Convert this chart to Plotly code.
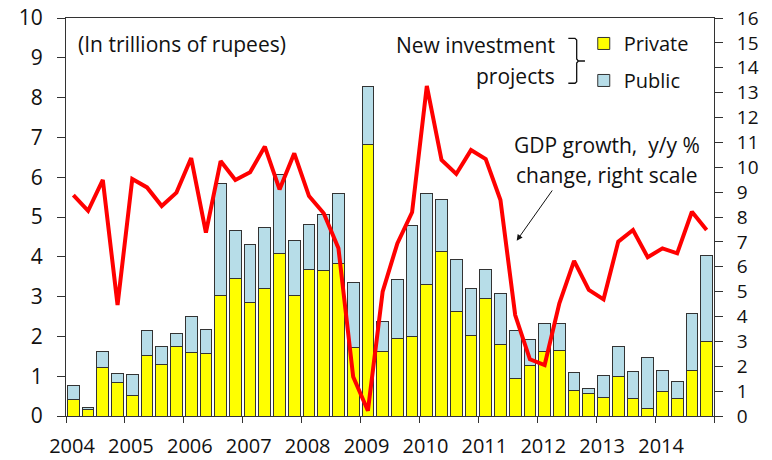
import plotly.graph_objects as go

years = ["2004", "2005", "2006", "2007", "2008", "2009", "2010", "2011", "2012", "2013", "2014"]

private = [0.42, 0.16, 1.22, 0.85, 0.52, 1.51, 1.29, 1.75,
           1.59, 1.57, 3.02, 3.46, 2.86, 3.21, 4.08, 3.04,
           3.68, 3.65, 3.84, 1.73, 6.83, 1.62, 1.95, 2.01,
           3.30, 4.14, 2.63, 2.03, 2.95, 1.80, 0.95, 1.26,
           1.62, 1.64, 0.65, 0.57, 0.47, 1.00, 0.44, 0.18,
           0.61, 0.44, 1.15, 1.88]
total = [0.77, 0.22, 1.62, 1.07, 1.05, 2.15, 1.75, 2.08,
         2.50, 2.18, 5.84, 4.66, 4.31, 4.74, 6.07, 4.42,
         4.82, 5.06, 5.60, 3.35, 8.29, 2.37, 3.42, 4.78,
         5.58, 5.43, 3.94, 3.21, 3.68, 3.07, 2.14, 1.93,
         2.32, 2.32, 1.10, 0.68, 1.01, 1.75, 1.12, 1.48,
         1.15, 0.86, 2.57, 4.04]
public = [round(t - p, 2) for t, p in zip(total, private)]

gdp = [8.88, 8.25, 9.49, 4.46, 9.53, 9.19, 8.44, 8.98,
       10.37, 7.37, 10.25, 9.49, 9.80, 10.83, 9.11, 10.56,
       8.84, 8.15, 6.74, 1.58, 0.21, 5.00, 6.94, 8.19,
       13.27, 10.29, 9.73, 10.69, 10.33, 8.68, 4.06, 2.28,
       2.05, 4.53, 6.24, 5.07, 4.69, 7.01, 7.48, 6.38,
       6.74, 6.54, 8.21, 7.48]

x = list(range(len(private)))
FONT = "Open Sans"
DARK = "#333333"

fig = go.Figure()
fig.add_trace(go.Bar(x=x, y=private, name="Private", marker=dict(color="#FFFF00", line=dict(color=DARK, width=1)),
                     width=0.8, legendgroup="a"))
fig.add_trace(go.Bar(x=x, y=public, name="Public", marker=dict(color="#B7DDE8", line=dict(color=DARK, width=1)),
                     width=0.8, legendgroup="b"))
fig.add_trace(go.Scatter(x=x, y=gdp, yaxis="y2", mode="lines", line=dict(color="#FF0000", width=4),
                         showlegend=False, name="GDP growth"))

tickvals = [-0.5 + 4 * k for k in range(12)]
ticktext = years + [""]

fig.update_layout(
    width=772, height=460, autosize=False,
    margin=dict(l=66, r=58, t=18, b=44, autoexpand=False),
    paper_bgcolor="white", plot_bgcolor="white",
    barmode="stack", bargap=0.2,
    font=dict(family=FONT, size=21, color="#111111"),
    xaxis=dict(range=[-0.5, 43.5], tickvals=tickvals, ticktext=ticktext, ticks="outside", ticklen=6,
               tickcolor=DARK, showline=True, linecolor=DARK, linewidth=1, mirror=True, showgrid=False,
               zeroline=False, ticklabelshift=6, ticklabelstandoff=6, tickfont=dict(size=20),
               automargin=False, ticklabeloverflow="allow"),
    yaxis=dict(range=[0, 10], dtick=1, ticks="outside", ticklen=8, tickcolor=DARK, showline=True,
               linecolor=DARK, linewidth=1, showgrid=False, zeroline=False, ticklabelstandoff=10,
               tickfont=dict(size=21), automargin=False, ticklabeloverflow="allow"),
    yaxis2=dict(range=[0, 16], dtick=1, overlaying="y", side="right", ticks="outside", ticklen=8,
                tickcolor=DARK, showline=True, linecolor=DARK, linewidth=1, showgrid=False, zeroline=False,
                ticklabelstandoff=10, tickfont=dict(size=19), automargin=False, ticklabeloverflow="allow"),
    legend=dict(x=0.799, y=0.985, xanchor="left", yanchor="top", traceorder="grouped",
                tracegroupgap=8, font=dict(size=20), bgcolor="rgba(0,0,0,0)"),
    showlegend=True,
)

ann = [
    dict(text="(In trillions of rupees)", x=0.015, y=0.935, xanchor="left", yanchor="middle"),
    dict(text="New investment", x=0.7577, y=0.932, xanchor="right", yanchor="middle"),
    dict(text="projects", x=0.7577, y=0.854, xanchor="right", yanchor="middle"),
    dict(text="GDP growth,  y/y %", x=0.835, y=0.681, xanchor="center", yanchor="middle"),
    dict(text="change, right scale", x=0.835, y=0.6055, xanchor="center", yanchor="middle"),
]
for a in ann:
    fig.add_annotation(xref="paper", yref="paper", showarrow=False, font=dict(size=21, family=FONT), **a)

fig.add_annotation(xref="paper", yref="paper", x=0.6955, y=0.4405, ax=36.6, ay=-51.7,
                   axref="pixel", ayref="pixel", text="", showarrow=True, arrowhead=2,
                   arrowsize=1.2, arrowwidth=1, arrowcolor="#111111", standoff=0)

fig.add_shape(type="path", xref="paper", yref="paper",
              path="M0.7752,0.949 L0.7855,0.949 L0.7881,0.9447 L0.7881,0.897 L0.7906,0.892 L0.8009,0.892 "
                   "M0.7906,0.892 L0.7881,0.887 L0.7881,0.840 L0.7855,0.836 L0.7752,0.836",
              line=dict(color="#111111", width=1.3))

# remove the default 8px page margin so the 772x460 figure fills the window exactly
fig.write_html("out.html", config={"displayModeBar": False},
               post_script="document.body.style.margin='0';document.body.style.overflow='hidden';")
